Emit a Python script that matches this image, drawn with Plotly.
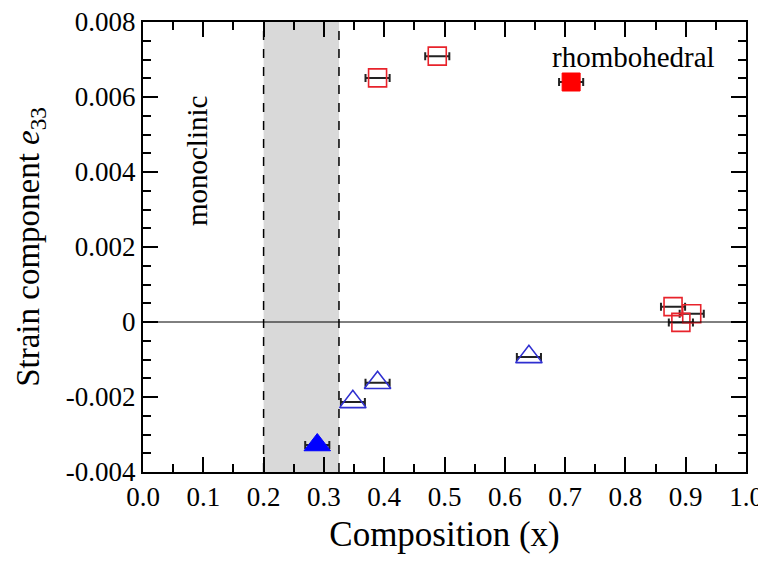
import plotly.graph_objects as go

# Data
rh_open_x = [0.389, 0.488, 0.879, 0.892, 0.910]
rh_open_y = [0.00651, 0.00709, 0.00041, -0.00001, 0.00022]
rh_fill_x = [0.710]
rh_fill_y = [0.0064]
mono_open_x = [0.348, 0.389, 0.640]
mono_open_y = [-0.00213, -0.00162, -0.00093]
mono_fill_x = [0.289]
mono_fill_y = [-0.00328]
x_err = 0.02
band = [0.2, 0.325]

ytickvals = [-0.004, -0.002, 0, 0.002, 0.004, 0.006, 0.008]
yticktext = ["-0.004", "-0.002", "0", "0.002", "0.004", "0.006", "0.008"]
xtickvals = [0.0, 0.1, 0.2, 0.3, 0.4, 0.5, 0.6, 0.7, 0.8, 0.9, 1.0]
xticktext = ["0.0", "0.1", "0.2", "0.3", "0.4", "0.5", "0.6", "0.7", "0.8", "0.9", "1.0"]

FONT = "Liberation Serif"
RED = "#e8232b"
BLUE = "#2f2fd0"
fig = go.Figure()

err = dict(type="constant", value=x_err, color="#222222", thickness=2, width=4)

fig.add_trace(go.Scatter(x=rh_open_x, y=rh_open_y, mode="markers", error_x=err,
    marker=dict(symbol="square-open", size=18, color=RED, line=dict(width=1.6, color=RED))))
fig.add_trace(go.Scatter(x=rh_fill_x, y=rh_fill_y, mode="markers", error_x=err,
    marker=dict(symbol="square", size=18, color="red", line=dict(width=1, color="red"))))
fig.add_trace(go.Scatter(x=mono_open_x, y=mono_open_y, mode="markers", error_x=err,
    marker=dict(symbol="triangle-up-open", size=23, color=BLUE, line=dict(width=1.6, color=BLUE))))
fig.add_trace(go.Scatter(x=mono_fill_x, y=mono_fill_y, mode="markers", error_x=err,
    marker=dict(symbol="triangle-up", size=23, color="blue", line=dict(width=1, color="blue"))))

fig.add_shape(type="rect", xref="x", yref="paper", x0=band[0], x1=band[1], y0=0, y1=1,
              fillcolor="#d9d9d9", line=dict(width=0), layer="below")
for bx in band:
    fig.add_shape(type="line", xref="x", yref="paper", x0=bx, x1=bx, y0=0, y1=1,
                  line=dict(color="black", width=1.5, dash="dash"))
fig.add_shape(type="line", xref="paper", yref="y", x0=0, x1=1, y0=0, y1=0,
              line=dict(color="black", width=1))

fig.add_annotation(x=0.0895, y=0.00429, xref="x", yref="y", text="monoclinic", textangle=-90,
                   showarrow=False, font=dict(family=FONT, size=29, color="black"))
fig.add_annotation(x=0.814, y=0.00707, xref="x", yref="y", text="rhombohedral",
                   showarrow=False, font=dict(family=FONT, size=29, color="black"))

fig.update_layout(
    width=758, height=546,
    margin=dict(l=135, r=20, t=14, b=82),
    paper_bgcolor="white", plot_bgcolor="white",
    showlegend=False,
    font=dict(family=FONT, size=27, color="black"),
    xaxis=dict(range=[0, 1], tickvals=xtickvals, ticktext=xticktext, automargin=False,
               showgrid=False, zeroline=False, showline=True, linecolor="black", linewidth=2,
               mirror="ticks", ticks="inside", ticklen=15, tickwidth=2, tickcolor="black",
               ticklabeloverflow="allow",
               minor=dict(ticks="inside", ticklen=8, tickwidth=1.5, tickcolor="black", dtick=0.05, showgrid=False),
               title=dict(text="Composition (x)", font=dict(family=FONT, size=35), standoff=18),
               tickfont=dict(family=FONT, size=27)),
    yaxis=dict(range=[-0.004, 0.008], tickvals=ytickvals, ticktext=yticktext, automargin=False,
               showgrid=False, zeroline=False, showline=True, linecolor="black", linewidth=2,
               mirror="ticks", ticks="inside", ticklen=15, tickwidth=2, tickcolor="black",
               ticklabeloverflow="allow",
               minor=dict(ticks="inside", ticklen=8, tickwidth=1.5, tickcolor="black", dtick=0.0005, showgrid=False),
               title=dict(text="Strain component <i>e</i><sub>33</sub>", font=dict(family=FONT, size=33), standoff=16),
               tickfont=dict(family=FONT, size=27)),
)

fig.write_html("out.html")
